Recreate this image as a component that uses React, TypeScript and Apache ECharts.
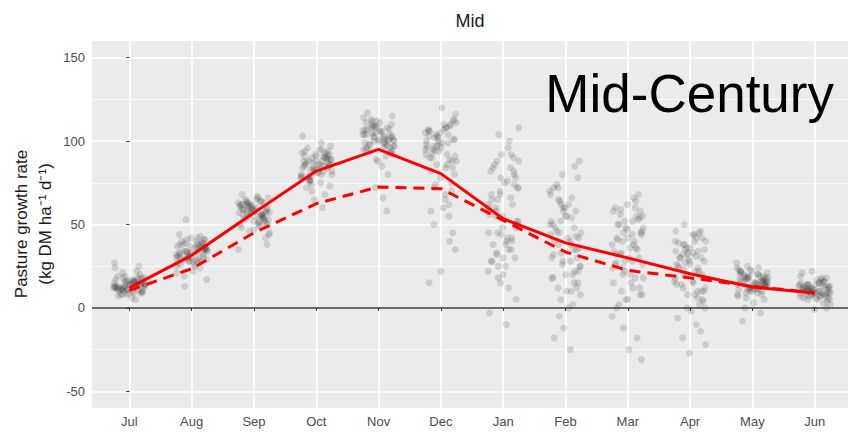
import React, { useEffect, useRef } from "react";
import * as echarts from "echarts";

const months = ["Jul", "Aug", "Sep", "Oct", "Nov", "Dec", "Jan", "Feb", "Mar", "Apr", "May", "Jun"];
const yTicks = [-50, 0, 50, 100, 150];
const yMinor = [-25, 25, 75, 125];

// mean curves
const solidLine = [12, 31.5, 57, 82, 95, 80.5, 53.5, 39, 30, 20.5, 12.5, 9];
const dashedLine = [10.5, 23.5, 45, 62.5, 72.5, 71.5, 52.5, 33.5, 22.5, 18, 13, 9];

// horizontal jitter offsets (category units)
const jitter = [-0.22, 0.05, 0.18, -0.1, 0.24, -0.03, 0.12, -0.18, 0.08, -0.25, 0.2, -0.07, 0.15, -0.14, 0.02, 0.22, -0.2, 0.1, -0.05, 0.17, -0.12, 0.25, -0.01, 0.07, -0.23, 0.13, -0.09, 0.19, -0.16, 0.04, 0.23, -0.11, 0.0, -0.19, 0.14, -0.04, 0.09, -0.24, 0.21, -0.08];

// individual simulated values per month (first set)
const ptsJul = [12, 15, 9, 18, 14, 11, 22, 7, 16, 13, 10, 19, 25, 8, 14, 17, 12, 5, 15, 20, 11, 13, 9, 16, 24, 14, 10, 18, 12, 6, 15, 21, 13, 11, 17, 8, 14, 27, 10, 16];
const ptsAug = [30, 36, 25, 41, 33, 28, 38, 22, 35, 44, 27, 31, 39, 19, 34, 42, 29, 37, 24, 53, 32, 40, 26, 35, 13, 30, 38, 43, 28, 33, 21, 36, 41, 31, 25, 39, 34, 17, 37, 29];
const ptsSep = [55, 60, 48, 64, 57, 52, 62, 45, 58, 66, 50, 56, 61, 42, 59, 65, 53, 63, 47, 68, 54, 60, 49, 57, 38, 55, 62, 67, 51, 58, 44, 61, 64, 56, 50, 35, 59, 46, 63, 53];
const ptsOct = [82, 88, 75, 93, 85, 79, 90, 72, 86, 97, 77, 83, 91, 68, 87, 95, 80, 92, 74, 103, 84, 89, 76, 86, 65, 82, 94, 99, 78, 85, 70, 90, 96, 81, 73, 88, 60, 84, 92, 79];
const ptsNov = [98, 105, 92, 110, 101, 96, 108, 89, 103, 114, 94, 100, 107, 85, 104, 112, 97, 109, 91, 117, 99, 106, 93, 102, 80, 98, 111, 115, 95, 101, 72, 107, 113, 100, 88, 66, 104, 58, 109, 96];
const ptsDec = [100, 108, 92, 112, 104, 96, 110, 88, 102, 116, 94, 99, 106, 84, 105, 113, 97, 109, 90, 120, 101, 107, 86, 103, 70, 95, 111, 78, 65, 98, 55, 74, 45, 82, 60, 35, 50, 22, 15, 40];
const ptsJan = [80, 88, 72, 92, 84, 65, 96, 58, 78, 104, 62, 86, 75, 52, 82, 100, 68, 90, 55, 108, 48, 42, 60, 35, 45, 30, 38, 25, 50, 33, 20, 28, 40, 15, 12, 22, 5, 18, -3, -10];
const ptsFeb = [70, 78, 62, 85, 74, 55, 88, 50, 66, 80, 58, 72, 45, 60, 40, 52, 35, 64, 30, 48, 42, 25, 38, 20, 32, 15, 28, 10, 44, 22, 5, 18, 0, 12, -5, 8, -12, 2, -18, -25];
const ptsMar = [60, 66, 52, 68, 56, 48, 62, 44, 58, 64, 40, 54, 50, 36, 46, 59, 42, 32, 55, 28, 38, 24, 45, 20, 34, 15, 30, 10, 26, 5, 18, 0, 12, -5, 8, -12, -18, 2, -25, -31];
const ptsApr = [40, 46, 34, 50, 42, 30, 44, 28, 38, 36, 25, 45, 32, 22, 40, 18, 35, 26, 15, 30, 20, 12, 33, 10, 24, 8, 16, 5, 19, 2, 14, -2, 10, -6, -10, 0, -14, -18, -22, -27];
const ptsMay = [14, 18, 10, 22, 16, 12, 20, 8, 17, 25, 11, 15, 19, 6, 16, 23, 13, 21, 9, 27, 14, 18, 10, 16, 3, 13, 20, 24, 12, 15, 0, 18, 22, 14, 7, -3, 17, 5, -8, 11];
const ptsJun = [9, 12, 7, 15, 10, 8, 14, 5, 11, 18, 6, 10, 13, 4, 11, 16, 8, 14, 6, 21, 9, 12, 7, 11, 2, 9, 15, 19, 8, 10, 0, 13, 17, 9, 5, -1, 12, 3, 22, 7];

// second set of values per month (core of each cloud)
const ptsJul2 = [11, 14, 16, 9, 13, 18, 12, 15, 10, 17, 13, 8, 14, 19, 11, 16, 12, 15, 9, 13, 17, 10, 14, 12, 18, 11, 15, 13, 16, 12];
const ptsAug2 = [32, 35, 28, 38, 30, 41, 34, 27, 36, 31, 39, 29, 33, 37, 26, 40, 32, 35, 30, 38, 34, 28, 36, 33, 42, 31, 37, 29, 35, 33];
const ptsSep2 = [56, 59, 52, 63, 57, 61, 54, 65, 58, 50, 60, 55, 62, 53, 64, 57, 59, 51, 61, 56, 63, 58, 54, 60, 66, 57, 52, 62, 55, 59];
const ptsOct2 = [84, 88, 80, 92, 86, 78, 90, 83, 94, 87, 81, 89, 76, 91, 85, 93, 82, 88, 79, 86, 90, 84, 95, 87, 77, 89, 83, 91, 86, 80];
const ptsNov2 = [100, 104, 97, 108, 102, 95, 110, 103, 99, 106, 93, 105, 101, 112, 98, 107, 96, 104, 102, 109, 100, 94, 106, 103, 111, 99, 105, 101, 108, 97];
const ptsDec2 = [98, 104, 90, 108, 95, 101, 86, 110, 93, 99, 80, 106, 92, 102, 75, 97, 88, 105, 68, 100, 62, 94, 84, 58, 107, 91, 72, 96, 103, 89];
const ptsJan2 = [70, 82, 60, 88, 55, 76, 45, 92, 65, 50, 84, 38, 72, 58, 30, 68, 42, 78, 35, 62, 48, 25, 56, 40, 74, 32, 52, 44, 66, 28];
const ptsFeb2 = [65, 55, 72, 48, 60, 38, 68, 42, 52, 30, 62, 35, 45, 25, 58, 20, 40, 28, 50, 15, 33, 22, 46, 10, 36, 18, 54, 26, 43, 12];
const ptsMar2 = [55, 48, 60, 42, 52, 38, 58, 45, 35, 50, 30, 44, 26, 40, 22, 53, 32, 18, 47, 28, 15, 36, 24, 12, 41, 20, 8, 33, 5, 27];
const ptsApr2 = [42, 36, 46, 32, 40, 28, 44, 34, 24, 38, 20, 30, 16, 35, 12, 26, 39, 22, 8, 31, 18, 4, 27, 14, 33, 10, 23, 0, 29, 6];
const ptsMay2 = [15, 19, 12, 22, 16, 10, 20, 14, 18, 11, 23, 15, 17, 9, 21, 13, 19, 16, 12, 24, 14, 18, 8, 20, 15, 13, 17, 11, 19, 16];
const ptsJun2 = [10, 13, 8, 15, 11, 7, 14, 9, 12, 16, 10, 6, 13, 11, 17, 8, 12, 14, 9, 11, 15, 7, 13, 10, 18, 12, 5, 11, 14, 9];

const monthPoints = [ptsJul, ptsAug, ptsSep, ptsOct, ptsNov, ptsDec, ptsJan, ptsFeb, ptsMar, ptsApr, ptsMay, ptsJun];
const monthPoints2 = [ptsJul2, ptsAug2, ptsSep2, ptsOct2, ptsNov2, ptsDec2, ptsJan2, ptsFeb2, ptsMar2, ptsApr2, ptsMay2, ptsJun2];

const FONT = "'Liberation Sans', Arial, sans-serif";

export default function App() {
  const ref = useRef<HTMLDivElement>(null);

  useEffect(() => {
    if (!ref.current) return;
    const chart = echarts.init(ref.current, null, { renderer: "svg" });

    const scatterData: number[][] = [];
    monthPoints.forEach((vals, i) => {
      vals.forEach((v, k) => {
        scatterData.push([i + jitter[(k + i * 7) % jitter.length], v]);
      });
    });
    monthPoints2.forEach((vals, i) => {
      vals.forEach((v, k) => {
        scatterData.push([i + jitter[(k + 20 + i * 13) % jitter.length], v]);
      });
    });

    const monthIdx = months.map((_, i) => i);

    const option: any = {
      animation: false,
      backgroundColor: "#ffffff",
      grid: {
        left: 92,
        right: 0,
        top: 41,
        bottom: 25,
        show: true,
        backgroundColor: "#ebebeb",
        borderWidth: 0,
        containLabel: false,
        outerBoundsMode: "none",
      },
      xAxis: {
        type: "value",
        min: -0.6,
        max: 11.535,
        axisLine: { show: false },
        axisTick: { show: true, length: 3, lineStyle: { color: "#333333", width: 1 }, customValues: monthIdx },
        axisLabel: {
          customValues: monthIdx,
          formatter: (v: number) => months[Math.round(v)] ?? "",
          color: "#4d4d4d",
          fontSize: 13,
          fontFamily: FONT,
          margin: 7,
        },
        splitLine: { show: true, lineStyle: { color: "#ffffff", width: 1.6 } },
      },
      yAxis: [
        {
          type: "value",
          min: -60,
          max: 160,
          axisLine: { show: false },
          axisTick: { show: true, length: 3, lineStyle: { color: "#333333", width: 1 }, customValues: yTicks },
          axisLabel: {
            customValues: yTicks,
            color: "#4d4d4d",
            fontSize: 13,
            fontFamily: FONT,
            margin: 7,
          },
          splitLine: { show: true, lineStyle: { color: "#ffffff", width: 1.6 } },
        },
        {
          type: "value",
          min: -60,
          max: 160,
          position: "left",
          axisLine: { show: false },
          axisTick: { show: false, customValues: yMinor },
          axisLabel: { show: false, customValues: yMinor },
          splitLine: { show: true, lineStyle: { color: "#ffffff", width: 0.8, opacity: 0.85 } },
        },
      ],
      graphic: [
        {
          type: "text",
          x: 470,
          y: 21,
          style: { text: "Mid", font: `18px ${FONT}`, fill: "#1a1a1a", align: "center", verticalAlign: "middle" },
        },
        {
          type: "text",
          x: 834,
          y: 93,
          z: 100,
          style: { text: "Mid-Century", font: `53px ${FONT}`, fill: "#000000", align: "right", verticalAlign: "middle" },
        },
        {
          type: "text",
          x: 21,
          y: 224,
          rotation: Math.PI / 2,
          style: { text: "Pasture growth rate", font: `17px ${FONT}`, fill: "#1a1a1a", align: "center", verticalAlign: "middle" },
        },
        {
          type: "text",
          x: 45,
          y: 224,
          rotation: Math.PI / 2,
          style: { text: "(kg DM ha\u207B\u00B9 d\u207B\u00B9)", font: `17px ${FONT}`, fill: "#1a1a1a", align: "center", verticalAlign: "middle" },
        },
      ],
      series: [
        {
          type: "scatter",
          data: scatterData,
          symbol: "circle",
          symbolSize: 7,
          itemStyle: { color: "rgba(50,50,50,0.2)" },
          z: 2,
          silent: true,
          markLine: {
            silent: true,
            symbol: "none",
            label: { show: false },
            lineStyle: { color: "#3a3a3a", width: 1.6, type: "solid" },
            data: [{ yAxis: 0 }],
          },
        },
        {
          type: "line",
          data: solidLine.map((v, i) => [i, v]),
          showSymbol: false,
          lineStyle: { color: "#ff0000", width: 3 },
          z: 4,
          silent: true,
        },
        {
          type: "line",
          data: dashedLine.map((v, i) => [i, v]),
          showSymbol: false,
          lineStyle: { color: "#ff0000", width: 3, type: [11, 7] },
          z: 4,
          silent: true,
        },
      ],
    };

    chart.setOption(option);
    return () => chart.dispose();
  }, []);

  return (
    <div
      ref={ref}
      style={{ position: "fixed", left: 0, top: 0, width: 848, height: 433, background: "#fff" }}
    />
  );
}
